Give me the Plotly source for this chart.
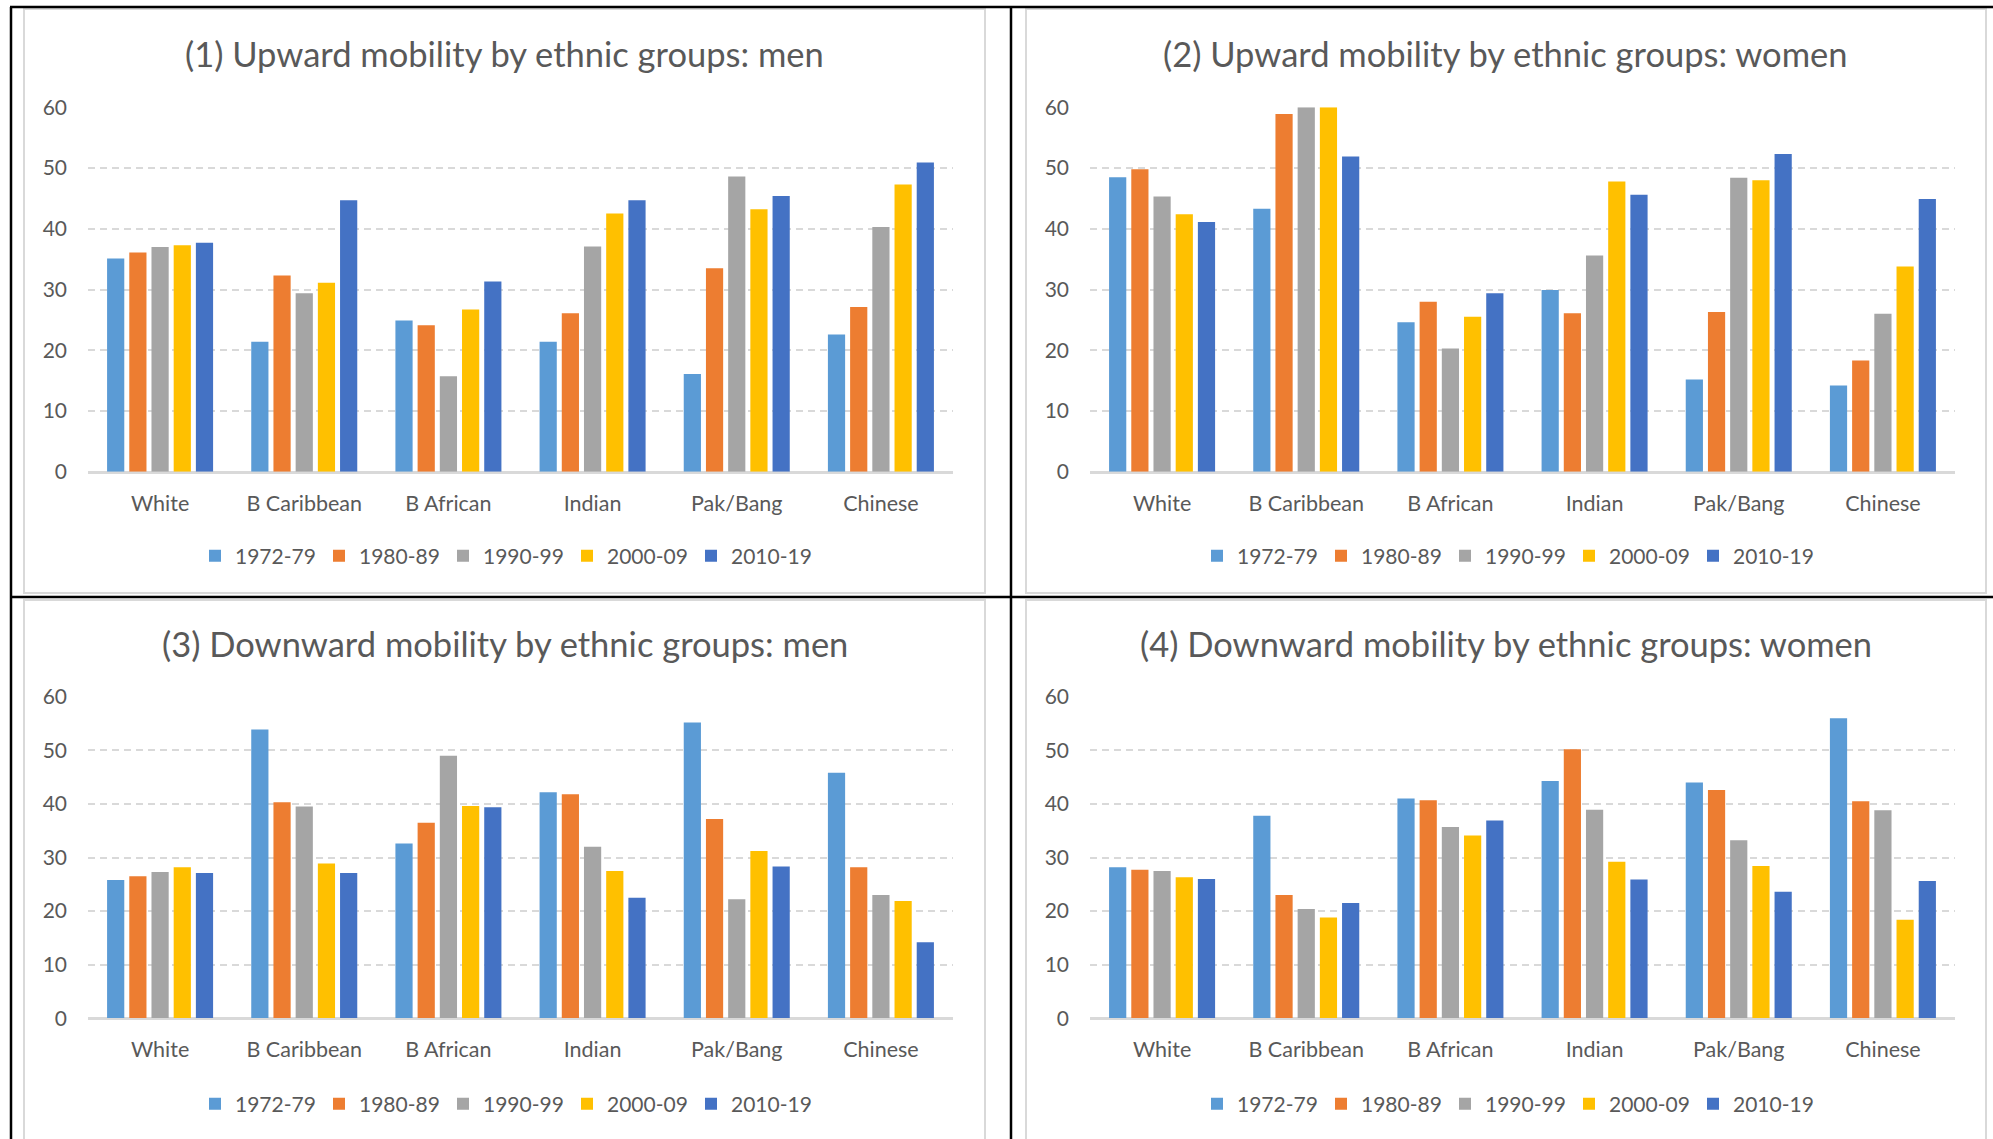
import plotly.graph_objects as go

# Ethnic groups and survey decades
categories = ["White", "B Caribbean", "B African", "Indian", "Pak/Bang", "Chinese"]
periods = ["1972-79", "1980-89", "1990-99", "2000-09", "2010-19"]
period_colors = ["#5B9BD5", "#ED7D31", "#A5A5A5", "#FFC000", "#4472C4"]

# (1) Upward mobility, men: one list per period, values per ethnic group
up_men_1972 = [35.1, 21.4, 24.9, 21.4, 16.1, 22.6]
up_men_1980 = [36.1, 32.3, 24.1, 26.1, 33.5, 27.1]
up_men_1990 = [37.0, 29.4, 15.7, 37.1, 48.6, 40.3]
up_men_2000 = [37.3, 31.1, 26.7, 42.5, 43.2, 47.3]
up_men_2010 = [37.7, 44.7, 31.3, 44.7, 45.4, 50.9]

# (2) Upward mobility, women
up_women_1972 = [48.5, 43.3, 24.6, 29.9, 15.2, 14.2]
up_women_1980 = [49.8, 58.9, 28.0, 26.1, 26.3, 18.3]
up_women_1990 = [45.3, 60.0, 20.3, 35.6, 48.4, 26.0]
up_women_2000 = [42.4, 60.0, 25.5, 47.8, 48.0, 33.8]
up_women_2010 = [41.1, 51.9, 29.4, 45.6, 52.3, 44.9]

# (3) Downward mobility, men
down_men_1972 = [25.8, 53.9, 32.6, 42.2, 55.2, 45.8]
down_men_1980 = [26.5, 40.3, 36.5, 41.8, 37.2, 28.2]
down_men_1990 = [27.3, 39.5, 49.0, 32.0, 22.2, 23.0]
down_men_2000 = [28.2, 28.9, 39.6, 27.5, 31.2, 21.9]
down_men_2010 = [27.1, 27.1, 39.4, 22.5, 28.3, 14.2]

# (4) Downward mobility, women
down_women_1972 = [28.2, 37.8, 41.0, 44.3, 44.0, 56.0]
down_women_1980 = [27.7, 23.0, 40.7, 50.2, 42.6, 40.5]
down_women_1990 = [27.5, 20.4, 35.7, 38.9, 33.2, 38.8]
down_women_2000 = [26.3, 18.8, 34.1, 29.2, 28.4, 18.4]
down_women_2010 = [26.0, 21.5, 36.9, 25.9, 23.6, 25.6]

titles = [
    "(1) Upward mobility by ethnic groups: men",
    "(2) Upward mobility by ethnic groups: women",
    "(3) Downward mobility by ethnic groups: men",
    "(4) Downward mobility by ethnic groups: women",
]
y_ticks = [0, 10, 20, 30, 40, 50, 60]

panels = [
    [up_men_1972, up_men_1980, up_men_1990, up_men_2000, up_men_2010],
    [up_women_1972, up_women_1980, up_women_1990, up_women_2000, up_women_2010],
    [down_men_1972, down_men_1980, down_men_1990, down_men_2000, down_men_2010],
    [down_women_1972, down_women_1980, down_women_1990, down_women_2000, down_women_2010],
]

# ---- page geometry (pixels) ----
W, H = 1993, 1139
FONT = "Lato"
TEXT = "#595959"
GRID = "#d9d9d9"


def fx(px):
    return px / W


def fy(py):
    return 1 - py / H


# plot areas: (left, right, top-of-60, bottom-at-0)
areas = [
    (88, 953, 107.3, 471.7),
    (1090, 1955, 107.3, 471.7),
    (88, 953, 696.8, 1018.2),
    (1090, 1955, 696.8, 1018.2),
]
title_pos = [(504.5, 53.5), (1505, 53.5), (504.5, 643.5), (1505.5, 643.5)]
legend_pos = [(505, 556), (1507, 556), (505, 1104), (1507, 1104)]

fig = go.Figure()
layout = dict(
    width=W, height=H,
    margin=dict(l=0, r=0, t=0, b=0, pad=0, autoexpand=False),
    paper_bgcolor="white", plot_bgcolor="white",
    barmode="group", bargap=0.23, bargroupgap=0.225,
    font=dict(family=FONT, color=TEXT, size=21),
    annotations=[], shapes=[],
)

for i, series in enumerate(panels):
    n = "" if i == 0 else str(i + 1)
    left, right, top, bottom = areas[i]
    for s, vals in enumerate(series):
        fig.add_trace(go.Bar(
            x=categories, y=vals, name=periods[s],
            marker=dict(color=period_colors[s], line=dict(width=0)),
            xaxis="x" + n, yaxis="y" + n,
            legend="legend" + n,
        ))
    layout["xaxis" + n] = dict(
        domain=[fx(left), fx(right)], anchor="y" + n,
        showgrid=False, showline=True, linecolor=GRID, linewidth=2,
        ticks="", tickfont=dict(size=21.5, color=TEXT), ticklabelstandoff=11,
        fixedrange=True, automargin=False,
    )
    layout["yaxis" + n] = dict(
        domain=[fy(bottom), fy(top)], anchor="x" + n,
        range=[0, 60], tickvals=y_ticks,
        showgrid=True, gridcolor=GRID, gridwidth=1.5, griddash="7px,5px",
        zeroline=True, zerolinecolor=GRID, zerolinewidth=2,
        showline=False, ticks="", tickfont=dict(size=21, color=TEXT),
        ticklabelstandoff=20, fixedrange=True, automargin=False,
    )
    lx, ly = legend_pos[i]
    layout["legend" + n] = dict(
        orientation="h", x=fx(lx), xanchor="center", y=fy(ly), yanchor="middle",
        font=dict(size=21, color=TEXT), entrywidth=79, entrywidthmode="pixels",
        bgcolor="rgba(0,0,0,0)", traceorder="normal",
    )
    tx, ty = title_pos[i]
    layout["annotations"].append(dict(
        text=titles[i], x=fx(tx), y=fy(ty), xref="paper", yref="paper",
        xanchor="center", yanchor="middle", showarrow=False,
        font=dict(size=34.5, color=TEXT, family=FONT),
    ))

# light grey chart-area frames
frames = [(24, 9, 985, 593), (1026, 9, 1986, 593), (24, 600, 985, 1145), (1026, 600, 1986, 1145)]
for x0, y0, x1, y1 in frames:
    layout["shapes"].append(dict(
        type="rect", xref="paper", yref="paper",
        x0=fx(x0), x1=fx(x1), y0=fy(y0), y1=fy(y1),
        line=dict(color=GRID, width=2), fillcolor="rgba(0,0,0,0)", layer="below",
    ))

# black table rules around the four charts
rules = [
    (10, 7, 1993, 7), (11, 7, 11, 1139), (1011, 7, 1011, 1139), (11, 597, 1993, 597),
]
for x0, y0, x1, y1 in rules:
    layout["shapes"].append(dict(
        type="line", xref="paper", yref="paper",
        x0=fx(x0), x1=fx(x1), y0=fy(y0), y1=fy(y1),
        line=dict(color="black", width=2.5), layer="above",
    ))

fig.update_layout(**layout)
fig.write_html("out.html", config={"displayModeBar": False})
